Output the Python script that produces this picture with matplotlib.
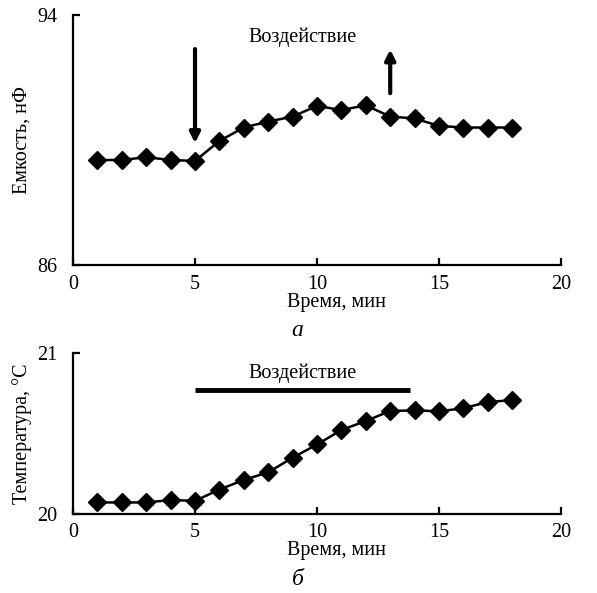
import numpy as np
import matplotlib
matplotlib.use('Agg')
import matplotlib.pyplot as plt

plt.rcParams['font.family'] = ['Liberation Serif', 'DejaVu Serif']

# время, мин
t = [1, 2, 3, 4, 5, 6, 7, 8, 9, 10, 11, 12, 13, 14, 15, 16, 17, 18]
# емкость, нФ
emk = [89.36, 89.36, 89.45, 89.36, 89.33, 89.97, 90.40, 90.59, 90.75, 91.09,
       90.96, 91.11, 90.75, 90.69, 90.45, 90.40, 90.40, 90.40]
# температура, C
temp = [20.07, 20.07, 20.07, 20.085, 20.08, 20.15, 20.21, 20.257, 20.348, 20.43,
        20.52, 20.576, 20.638, 20.642, 20.636, 20.655, 20.694, 20.705]

start_t = 5
end_t = 13
bar_end = 13.8

fs = 14.5

def oformit(ax, ymin, ymax, ylab):
    ax.spines['top'].set_visible(False)
    ax.spines['right'].set_visible(False)
    ax.spines['left'].set_linewidth(1.6)
    ax.spines['bottom'].set_linewidth(1.6)
    ax.set_xlim(0, 20)
    ax.set_ylim(ymin, ymax)
    ax.set_xticks([0, 5, 10, 15, 20])
    ax.set_yticks([ymin, ymax])
    ax.tick_params(axis='both', direction='in', length=5, width=1.6, labelsize=fs)
    ax.tick_params(axis='x', pad=7)
    ax.tick_params(axis='y', pad=11)
    ax.set_ylabel(ylab, fontsize=fs)
    ax.yaxis.set_label_coords(-0.085, 0.5)
    ax.set_xlabel('Время, мин', fontsize=fs)
    ax.xaxis.set_label_coords(0.54, -0.11 if ymax > 50 else -0.17)

fig = plt.figure(figsize=(5.97, 5.93), dpi=100)

ax1 = fig.add_axes([0.1223, 0.5531, 0.8174, 0.4216])
ax1.plot(t, emk, color='black', lw=1.8, marker='D', ms=9)
oformit(ax1, 86, 94, 'Емкость, нФ')
ax1.text(9.4, 93.3, 'Воздействие', fontsize=fs, ha='center', va='center')
ax1.annotate('', xy=(start_t, 89.9), xytext=(start_t, 92.91),
             arrowprops=dict(arrowstyle='-|>', lw=3, color='black', mutation_scale=15,
                             shrinkA=0, shrinkB=0))
ax1.annotate('', xy=(end_t, 92.9), xytext=(end_t, 91.5),
             arrowprops=dict(arrowstyle='-|>', lw=3, color='black', mutation_scale=15,
                             shrinkA=0, shrinkB=0))
ax1.text(0.46, -0.26, 'а', transform=ax1.transAxes, fontsize=17, style='italic',
         ha='center', va='center')

ax2 = fig.add_axes([0.1223, 0.1337, 0.8174, 0.2715])
ax2.plot(t, temp, color='black', lw=1.8, marker='D', ms=9)
oformit(ax2, 20, 21, 'Температура, °С')
ax2.plot([start_t, bar_end], [20.768, 20.768], color='black', lw=3.5, solid_capstyle='butt')
ax2.text(9.4, 20.87, 'Воздействие', fontsize=fs, ha='center', va='center')
ax2.text(0.46, -0.41, 'б', transform=ax2.transAxes, fontsize=17, style='italic',
         ha='center', va='center')

plt.savefig('out.png', dpi=100)
